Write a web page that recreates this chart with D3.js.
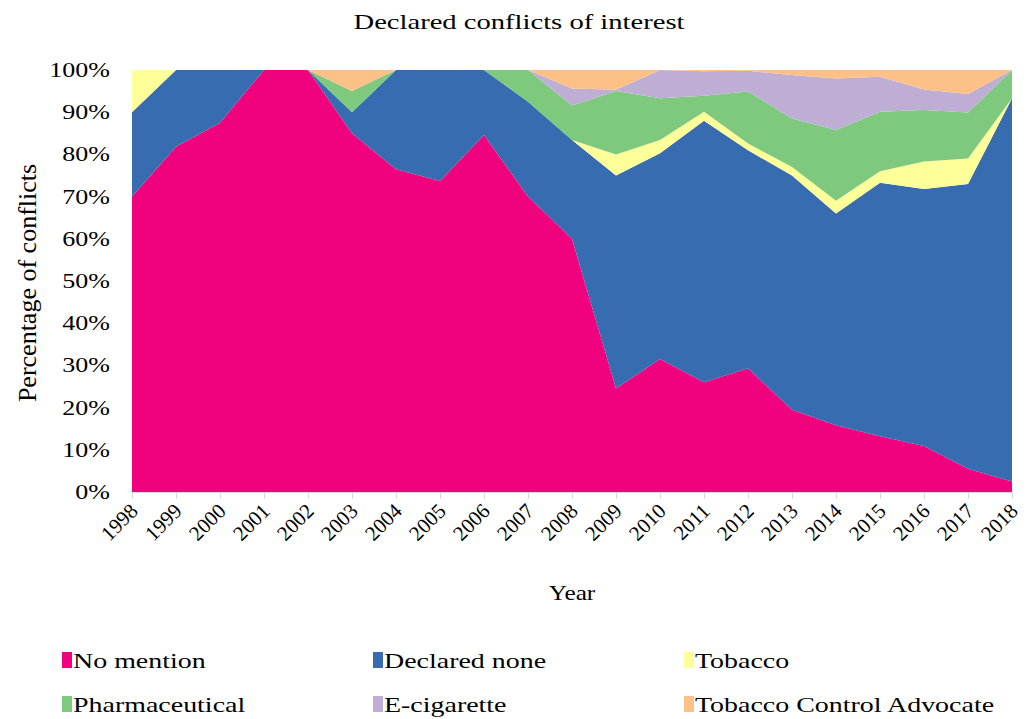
<!DOCTYPE html>
<html>
<head>
<meta charset="utf-8">
<script src="https://cdn.jsdelivr.net/npm/d3@7"></script>
<style>
  body { margin: 0; background: #fff; }
  text { font-family: "Liberation Serif", "Times New Roman", serif; fill: #000; }
</style>
</head>
<body>
<svg id="chart"></svg>
<script>
const years = [1998, 1999, 2000, 2001, 2002, 2003, 2004, 2005, 2006, 2007, 2008,
               2009, 2010, 2011, 2012, 2013, 2014, 2015, 2016, 2017, 2018];
const noMention      = [70, 81.8, 87.5, 100, 100, 85, 76.5, 73.7, 84.6, 70, 60, 24.5, 31.5, 26, 29.3, 19.5, 15.8, 13.2, 10.9, 5.5, 2.5];
const declaredNone   = [20, 18.2, 12.5, 0, 0, 5, 23.5, 26.3, 15.4, 22.5, 23.4, 50.5, 48.8, 62, 51.7, 55.5, 50.2, 60.1, 60.9, 67.5, 90.8];
const tobacco        = [10, 0, 0, 0, 0, 0, 0, 0, 0, 0, 0, 5, 3.1, 2.1, 1.6, 2, 3, 2.7, 6.5, 6, 0];
const pharmaceutical = [0, 0, 0, 0, 0, 5, 0, 0, 0, 7.5, 8.2, 15, 9.9, 3.8, 12.3, 11.5, 16.8, 14.1, 12.2, 10.9, 6.7];
const eCigarette     = [0, 0, 0, 0, 0, 0, 0, 0, 0, 0, 4, 0.3, 6.7, 5.8, 4.9, 10.3, 12.2, 8.3, 4.9, 4.4, 0];
const tobaccoControl = [0, 0, 0, 0, 0, 5, 0, 0, 0, 0, 4.4, 4.7, 0, 0.3, 0.2, 1.2, 2, 1.6, 4.6, 5.7, 0];

const seriesNames = ['No mention', 'Declared none', 'Tobacco', 'Pharmaceutical', 'E-cigarette', 'Tobacco Control Advocate'];
const seriesValues = [noMention, declaredNone, tobacco, pharmaceutical, eCigarette, tobaccoControl];
const colors = ['#f0027f', '#386cb0', '#ffff99', '#7fc97f', '#beaed4', '#fdc086'];
const yTicks = [0, 10, 20, 30, 40, 50, 60, 70, 80, 90, 100];

const W = 1026, H = 719;
const margin = { top: 70, right: 14, bottom: 227, left: 132 };
const width = W - margin.left - margin.right;
const height = H - margin.top - margin.bottom;
const sx = 1.3; // horizontal stretch of the original's lettering

const svg = d3.select('#chart').attr('width', W).attr('height', H);
const g = svg.append('g').attr('transform', `translate(${margin.left},${margin.top})`);

// rows for the stack
const rows = years.map((y, i) => {
    const r = { year: y };
    seriesNames.forEach((n, k) => { r[n] = seriesValues[k][i]; });
    return r;
});
const stacked = d3.stack().keys(seriesNames)(rows);

const x = d3.scaleLinear().domain(d3.extent(years)).range([0, width]);
const y = d3.scaleLinear().domain([0, 100]).range([height, 0]);

// Areas
const area = d3.area()
    .x(d => x(d.data.year))
    .y0(d => y(d[0]))
    .y1(d => y(d[1]));

g.selectAll('.layer')
    .data(stacked)
    .enter()
    .append('path')
    .attr('class', 'layer')
    .attr('fill', (d, i) => colors[i])
    .attr('d', area);

// X axis
const xAxis = g.append('g')
    .attr('transform', `translate(0,${height})`)
    .call(d3.axisBottom(x).tickValues(years).tickSize(7).tickFormat(''));
xAxis.selectAll('line').attr('stroke', '#d9d9d9');
xAxis.select('.domain').attr('stroke', '#d9d9d9');

g.selectAll('.xlab')
    .data(years)
    .enter()
    .append('text')
    .attr('class', 'xlab')
    .attr('transform', d => `translate(${x(d) + 2},${height + 15}) rotate(-45)`)
    .attr('text-anchor', 'end')
    .attr('dy', '0.35em')
    .attr('font-size', '21px')
    .text(d => d);

// Y tick labels
g.selectAll('.ylab')
    .data(yTicks)
    .enter()
    .append('text')
    .attr('class', 'ylab')
    .attr('transform', d => `translate(-22,${y(d)}) scale(${sx},1)`)
    .attr('text-anchor', 'end')
    .attr('dy', '0.35em')
    .attr('font-size', '20px')
    .text(d => d + '%');

// Title
svg.append('text')
    .attr('transform', `translate(519,29) scale(${sx},1)`)
    .attr('text-anchor', 'middle')
    .attr('font-size', '22px')
    .text('Declared conflicts of interest');

// Axis titles
svg.append('text')
    .attr('transform', `translate(572,600) scale(1.15,1)`)
    .attr('text-anchor', 'middle')
    .attr('font-size', '22px')
    .text('Year');

svg.append('text')
    .attr('transform', `translate(36,283) rotate(-90)`)
    .attr('text-anchor', 'middle')
    .attr('font-size', '26px')
    .text('Percentage of conflicts');

// Legend
const legendX = [62, 373, 684];
const legendY = [660, 704];
const legend = svg.selectAll('.legend')
    .data(seriesNames)
    .enter()
    .append('g')
    .attr('class', 'legend')
    .attr('transform', (d, i) => `translate(${legendX[i % 3]},${legendY[Math.floor(i / 3)]})`);

legend.append('rect')
    .attr('x', 0).attr('y', -8)
    .attr('width', 10).attr('height', 16)
    .attr('fill', (d, i) => colors[i]);

legend.append('text')
    .attr('transform', `translate(11,0) scale(${sx},1)`)
    .attr('dy', '0.35em')
    .attr('font-size', '21.5px')
    .text(d => d);
</script>
</body>
</html>
